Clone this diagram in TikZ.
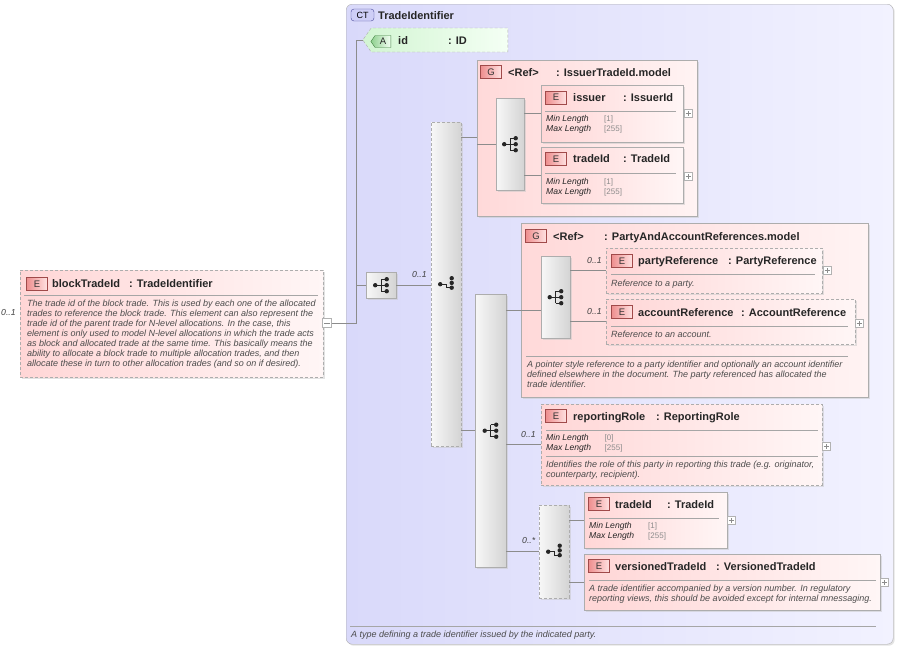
\documentclass[tikz,border=0pt]{standalone}
\usepackage{fontspec}
\setmainfont{Liberation Sans}
\usetikzlibrary{positioning,shapes.symbols,shadows}

\definecolor{ctleft}{HTML}{D9D9FA}
\definecolor{ctright}{HTML}{F2F2FF}
\definecolor{ctbfill}{HTML}{CFCFF7}
\definecolor{ctbline}{HTML}{4A4A9A}
\definecolor{elleft}{HTML}{FFD6D6}
\definecolor{elright}{HTML}{FFF6F6}
\definecolor{grleft}{HTML}{FFD9D9}
\definecolor{grright}{HTML}{FFF3F3}
\definecolor{bdleft}{HTML}{EE8E8E}
\definecolor{bdright}{HTML}{FFE2E2}
\definecolor{bdline}{HTML}{A04A4A}
\definecolor{atleft}{HTML}{D2F5D2}
\definecolor{atright}{HTML}{F4FFF4}
\definecolor{atbadge}{HTML}{8ED08E}
\definecolor{atline}{HTML}{3F7F3F}

% compositor glyphs, drawn on the centre of a node
\newcommand\seqmark[1]{%
  \begin{scope}[shift={(#1.center)}, black!85, line width=0.8pt]
    \draw (-6,0) -- (0,0) (0,-6) -- (0,6);
    \foreach \dy in {-6,0,6} {\draw (0,\dy) -- (5.5,\dy); \fill (5.5,\dy) circle (2.2pt);}
    \fill (-6,0) circle (2.2pt);
  \end{scope}}
\newcommand\choicemark[1]{%
  \begin{scope}[shift={(#1.center)}, black!85, line width=0.8pt]
    \draw (-6,0) -- (0,0) -- (0,3.5) -- (5.5,3.5);
    \foreach \dy in {-6,-1.3,3.5} \fill (5.5,\dy) circle (2.2pt);
    \fill (-6,0) circle (2.2pt);
  \end{scope}}
\newcommand\fval[1]{{\upshape\fontsize{8}{10}\selectfont\color{black!45}[#1]}}

\begin{document}
\begin{tikzpicture}[x=1pt, y=-1pt,
    box/.style={anchor=north west, inner sep=0pt, draw=black!32, drop shadow={shadow xshift=1.5pt, shadow yshift=-1.5pt, fill=black!22}},
    elem/.style={box, left color=elleft, right color=elright},
    grp/.style={box, left color=grleft, right color=grright},
    comp/.style={box, left color=black!3, right color=black!17},
    opt/.style={dash pattern=on 3pt off 2pt},
    ebadge/.style={draw=bdline, left color=bdleft, right color=bdright, minimum width=21pt, minimum height=13pt, inner sep=0pt, text=black!80, font=\fontsize{9.5}{9}\selectfont},
    attr/.style={signal, signal to=west, signal pointer angle=110, draw=black!32, dash pattern=on 3pt off 2pt, left color=atleft, right color=atright, minimum width=145pt, minimum height=24pt, inner sep=0pt},
    abadge/.style={signal, signal to=west, signal pointer angle=110, draw=atline, left color=atbadge, right color=atright, minimum width=20pt, minimum height=12pt, inner sep=0pt, text=black!85, font=\fontsize{9.5}{9}\selectfont},
    head/.style={anchor=base west, inner sep=0pt, text=black!85, font=\fontsize{11}{12}\selectfont\bfseries},
    doc/.style={anchor=north west, inner sep=0pt, align=left, text=black!70, font=\fontsize{9}{10}\selectfont\itshape},
    facet/.style={anchor=north west, inner sep=0pt, align=left, text=black!85, font=\fontsize{8.6}{10}\selectfont\itshape},
    card/.style={anchor=base west, inner sep=0pt, text=black!75, font=\fontsize{8.7}{10}\selectfont\itshape},
    rule/.style={draw=black!35, line width=0.7pt},
    conn/.style={draw=black!45, line width=0.8pt},
    expander/.style={draw=black!30, fill=white, minimum size=8pt, inner sep=0pt, path picture={\draw[black!45, line width=0.6pt] ([xshift=1.5pt]path picture bounding box.west) -- ([xshift=-1.5pt]path picture bounding box.east) ([yshift=1.5pt]path picture bounding box.south) -- ([yshift=-1.5pt]path picture bounding box.north);}},
    collapser/.style={draw=black!30, fill=white, minimum size=9pt, inner sep=0pt, path picture={\draw[black!45, line width=0.6pt] ([xshift=1.5pt]path picture bounding box.west) -- ([xshift=-1.5pt]path picture bounding box.east);}}
  ]
  \useasboundingbox (0,0) rectangle (898,648);

  % complex type frame
  \node[box, minimum width=547pt, minimum height=640pt, rounded corners=6pt, left color=ctleft, right color=ctright] (ct) at (346,4) {};
  \node[draw=ctbline, fill=ctbfill, rounded corners=3pt, minimum width=23pt, minimum height=12pt, inner sep=0pt, font=\fontsize{9}{9}\selectfont] (ctmark) at (362.5,15) {CT};
  \node[head] (cttitle) at (378,19) {TradeIdentifier};
  \draw[rule] (350,626) -- (876,626);
  \node[doc] (ctdoc) at (351,630.5) {A type defining a trade identifier issued by the indicated party.};

  % attribute
  \node[attr] (id) at (439.5,40) {};
  \node[abadge] (idmark) at (383,41.5) {A};
  \node[head] (idname) at (398,44) {id};
  \node[head] (idtype) at (448,44) {: ID};

  % blockTradeId
  \node[elem, opt, minimum width=303pt, minimum height=107pt] (block) at (20,270) {};
  \node[ebadge] (blockmark) at (37,284) {E};
  \node[head] (blockname) at (52,287) {blockTradeId};
  \node[head] (blocktype) at (129,287) {: TradeIdentifier};
  \draw[rule] (24,295) -- (318,295);
  \node[doc] (blockdoc) at (27,299.5) {The trade id of the block trade. This is used by each one of the allocated\\
    trades to reference the block trade. This element can also represent the\\
    trade id of the parent trade for N-level allocations. In the case, this\\
    element is only used to model N-level allocations in which the trade acts\\
    as block and allocated trade at the same time. This basically means the\\
    ability to allocate a block trade to multiple allocation trades, and then\\
    allocate these in turn to other allocation trades (and so on if desired).};
  \node[card] (blockcard) at (1,315) {0..1};
  \node[collapser] (blockminus) at (327,323) {};

  % compositors
  \node[comp, minimum width=30pt, minimum height=26pt] (seqtop) at (366,272) {};
  \node[comp, opt, minimum width=30pt, minimum height=324pt] (choicea) at (431,122) {};
  \node[card] (choiceacard) at (412,277) {0..1};
  \node[comp, minimum width=31pt, minimum height=273pt] (bigseq) at (475,294) {};

  % IssuerTradeId.model
  \node[grp, minimum width=220pt, minimum height=156pt] (issuergrp) at (477,60) {};
  \node[ebadge] (issuergrpmark) at (491,72) {G};
  \node[head] (issuerref) at (508,76) {<Ref>};
  \node[head] (issuergrptype) at (556,76) {: IssuerTradeId.model};
  \node[comp, minimum width=28pt, minimum height=92pt] (issuerseq) at (496,98) {};

  \node[elem, minimum width=142pt, minimum height=57pt] (issuer) at (541,85) {};
  \node[ebadge] (issuermark) at (556,97.5) {E};
  \node[head] (issuername) at (573,101) {issuer};
  \node[head] (issuertype) at (623,101) {: IssuerId};
  \draw[rule] (545,111.5) -- (676,111.5);
  \node[facet] (issuerfacets) at (546,115.5) {\makebox[58pt][l]{Min Length}\fval{1}\\\makebox[58pt][l]{Max Length}\fval{255}};
  \node[expander] (issuerplus) at (688,113) {};

  \node[elem, minimum width=142pt, minimum height=56pt] (tradeida) at (541,147) {};
  \node[ebadge] (tradeidamark) at (556,159) {E};
  \node[head] (tradeidaname) at (573,162) {tradeId};
  \node[head] (tradeidatype) at (623,162) {: TradeId};
  \draw[rule] (545,173) -- (676,173);
  \node[facet] (tradeidafacets) at (546,178) {\makebox[58pt][l]{Min Length}\fval{1}\\\makebox[58pt][l]{Max Length}\fval{255}};
  \node[expander] (tradeidaplus) at (688,176) {};

  % PartyAndAccountReferences.model
  \node[grp, minimum width=347pt, minimum height=174pt] (partygrp) at (521,223) {};
  \node[ebadge] (partygrpmark) at (536,236) {G};
  \node[head] (partyref0) at (553,240) {<Ref>};
  \node[head] (partygrptype) at (604,240) {: PartyAndAccountReferences.model};
  \node[comp, minimum width=29pt, minimum height=82pt] (partyseq) at (541,256) {};

  \node[elem, opt, minimum width=216pt, minimum height=45pt] (partyref) at (606,248) {};
  \node[ebadge] (partyrefmark) at (622,261) {E};
  \node[head] (partyrefname) at (638,264) {partyReference};
  \node[head] (partyreftype) at (728,264) {: PartyReference};
  \draw[rule] (611,274) -- (815,274);
  \node[doc] (partyrefdoc) at (611,279.5) {Reference to a party.};
  \node[card] (partyrefcard) at (587,263) {0..1};
  \node[expander] (partyrefplus) at (827,270) {};

  \node[elem, opt, minimum width=249pt, minimum height=45pt] (accref) at (606,299) {};
  \node[ebadge] (accrefmark) at (622,312) {E};
  \node[head] (accrefname) at (638,316) {accountReference};
  \node[head] (accreftype) at (741,316) {: AccountReference};
  \draw[rule] (611,326) -- (848,326);
  \node[doc] (accrefdoc) at (611,330.5) {Reference to an account.};
  \node[card] (accrefcard) at (587,314) {0..1};
  \node[expander] (accrefplus) at (859,323) {};

  \draw[rule] (526,356) -- (848,356);
  \node[doc] (partygrpdoc) at (527,361) {A pointer style reference to a party identifier and optionally an account identifier\\
    defined elsewhere in the document. The party referenced has allocated the\\
    trade identifier.};

  % reportingRole
  \node[elem, opt, minimum width=281pt, minimum height=81pt] (reprole) at (541,404) {};
  \node[ebadge] (reprolemark) at (556,416) {E};
  \node[head] (reprolename) at (573,420) {reportingRole};
  \node[head] (reproletype) at (656,420) {: ReportingRole};
  \draw[rule] (546,430) -- (818,430);
  \node[facet] (reprolefacets) at (546,434.5) {\makebox[58.5pt][l]{Min Length}\fval{0}\\\makebox[58.5pt][l]{Max Length}\fval{255}};
  \draw[rule] (546,456) -- (818,456);
  \node[doc] (reproledoc) at (546,461) {Identifies the role of this party in reporting this trade (e.g. originator,\\
    counterparty, recipient).};
  \node[card] (reprolecard) at (521,437) {0..1};
  \node[expander] (reproleplus) at (826,446) {};

  % tradeId / versionedTradeId
  \node[comp, opt, minimum width=30pt, minimum height=93pt] (choiceb) at (539,505) {};
  \node[card] (choicebcard) at (522,543) {0..*};

  \node[elem, minimum width=143pt, minimum height=56pt] (tradeidb) at (584,492) {};
  \node[ebadge] (tradeidbmark) at (599,504) {E};
  \node[head] (tradeidbname) at (615,508) {tradeId};
  \node[head] (tradeidbtype) at (667,508) {: TradeId};
  \draw[rule] (589,518) -- (719,518);
  \node[facet] (tradeidbfacets) at (589,522.5) {\makebox[59pt][l]{Min Length}\fval{1}\\\makebox[59pt][l]{Max Length}\fval{255}};
  \node[expander] (tradeidbplus) at (731,520) {};

  \node[elem, minimum width=296pt, minimum height=56pt] (verid) at (584,554) {};
  \node[ebadge] (veridmark) at (599,566) {E};
  \node[head] (veridname) at (615,570) {versionedTradeId};
  \node[head] (veridtype) at (716,570) {: VersionedTradeId};
  \draw[rule] (589,580.5) -- (876,580.5);
  \node[doc] (veriddoc) at (589,585) {A trade identifier accompanied by a version number. In regulatory\\
    reporting views, this should be avoided except for internal mnessaging.};
  \node[expander] (veridplus) at (884,582) {};

  % glyphs
  \seqmark{seqtop}
  \choicemark{choicea}
  \seqmark{issuerseq}
  \seqmark{bigseq}
  \seqmark{partyseq}
  \choicemark{choiceb}

  % connectors
  \draw[conn] (blockminus.east) -- ++(25,0) |- (id.west);
  \draw[conn] (blockminus.east) ++(25,0) |- (seqtop.west);
  \draw[conn] (seqtop.east) -- (seqtop.east -| choicea.west);
  \draw[conn] (choicea.east |- 0,137) -- (issuergrp.west |- 0,137);
  \draw[conn] (issuergrp.west |- issuerseq.west) -- (issuerseq.west);
  \draw[conn] (issuerseq.east |- issuer.west) -- (issuer.west);
  \draw[conn] (issuerseq.east |- tradeida.west) -- (tradeida.west);
  \draw[conn] (choicea.east |- bigseq.west) -- (bigseq.west);
  \draw[conn] (bigseq.east |- 0,310) -- (partyseq.west |- 0,310);
  \draw[conn] (partyseq.east |- partyref.west) -- (partyref.west);
  \draw[conn] (partyseq.east |- accref.west) -- (accref.west);
  \draw[conn] (bigseq.east |- reprole.west) -- (reprole.west);
  \draw[conn] (bigseq.east |- choiceb.west) -- (choiceb.west);
  \draw[conn] (choiceb.east |- tradeidb.west) -- (tradeidb.west);
  \draw[conn] (choiceb.east |- verid.west) -- (verid.west);
\end{tikzpicture}
\end{document}
